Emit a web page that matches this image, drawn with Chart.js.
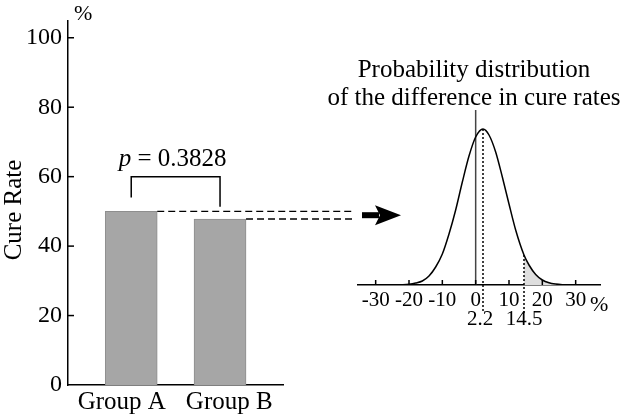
<!DOCTYPE html>
<html>
<head>
<meta charset="utf-8">
<script src="https://cdn.jsdelivr.net/npm/chart.js@4.4.1/dist/chart.umd.min.js"></script>
<style>
  body { margin: 0; background: #fff; }
  #wrap { position: relative; width: 624px; height: 420px; }
  canvas { position: absolute; left: 0; top: 0; }
</style>
</head>
<body>
<div id="wrap">
  <canvas id="barChart" width="624" height="420"></canvas>
  <canvas id="distChart" width="624" height="420"></canvas>
</div>
<script>
const serif = "'Liberation Serif', 'Times New Roman', serif";

// left panel
const categories = ['Group A', 'Group B'];
const cureRates = [50, 47.8];
const cureTicks = [0, 20, 40, 60, 80, 100];
const pValue = '0.3828';

// right panel (curve heights)
const diffValues = [-26, -24, -22, -20, -18, -16, -14, -12, -10, -8, -6, -4, -2, 0, 2.2, 4, 6, 8, 10, 12, 14.5, 16, 18, 20, 22, 24, 26, 28, 30];
const diffDensity = [0, 0.1, 0.3, 0.8, 2, 4, 9, 18, 31, 51, 75, 103, 129, 148, 156, 150, 133, 108, 81, 55, 30, 20, 10.5, 5, 2.2, 0.9, 0.3, 0.1, 0];
const diffTicks = [-30, -20, -10, 0, 10, 20, 30];
const meanDiff = 2.2;
const cutDiff = 14.5;

const barExtras = {
    id: 'barExtras',
    afterDraw(chart) {
        const ctx = chart.ctx;
        const xs = chart.scales.x, ys = chart.scales.y;
        const area = chart.chartArea;
        const bars = chart.getDatasetMeta(0).data;
        ctx.save();
        ctx.strokeStyle = '#000';
        ctx.fillStyle = '#000';
        ctx.lineWidth = 1.5;

        // inward tick marks on the y axis
        cureTicks.forEach(v => {
            if (v === 0) return;
            const y = ys.getPixelForValue(v);
            ctx.beginPath();
            ctx.moveTo(area.left, y);
            ctx.lineTo(area.left + 6, y);
            ctx.stroke();
        });

        // bracket with p value
        const by = ys.getPixelForValue(60);
        const xa = xs.getPixelForValue(0), xb = xs.getPixelForValue(1);
        ctx.beginPath();
        ctx.moveTo(xa, ys.getPixelForValue(cureRates[0] + 4));
        ctx.lineTo(xa, by);
        ctx.lineTo(xb, by);
        ctx.lineTo(xb, ys.getPixelForValue(cureRates[1] + 3.5));
        ctx.stroke();

        ctx.textBaseline = 'alphabetic';
        ctx.font = 'italic 25px ' + serif;
        const wp = ctx.measureText('p').width;
        ctx.font = '25px ' + serif;
        const rest = ' = ' + pValue;
        const wr = ctx.measureText(rest).width;
        let tx = (xa + xb) / 2 - 3 - (wp + wr) / 2;
        ctx.font = 'italic 25px ' + serif;
        ctx.textAlign = 'left';
        ctx.fillText('p', tx, by - 11);
        ctx.font = '25px ' + serif;
        ctx.fillText(rest, tx + wp, by - 11);

        // dashed guides from the bar tops
        ctx.setLineDash([7, 4]);
        ctx.lineWidth = 1.4;
        bars.forEach(b => {
            ctx.beginPath();
            ctx.moveTo(b.x + b.width / 2, b.y);
            ctx.lineTo(353, b.y);
            ctx.stroke();
        });
        ctx.setLineDash([]);

        // arrow
        const ay = (bars[0].y + bars[1].y) / 2;
        ctx.fillRect(362, ay - 3, 17, 6);
        ctx.beginPath();
        ctx.moveTo(375, ay - 10);
        ctx.lineTo(401, ay);
        ctx.lineTo(375, ay + 10);
        ctx.lineTo(380, ay);
        ctx.closePath();
        ctx.fill();

        // unit and axis title
        ctx.font = '22px ' + serif;
        ctx.textAlign = 'left';
        ctx.fillText('%', 74, 20);

        ctx.save();
        ctx.translate(14, 210);
        ctx.rotate(-Math.PI / 2);
        ctx.font = '25px ' + serif;
        ctx.textAlign = 'center';
        ctx.textBaseline = 'middle';
        ctx.fillText('Cure Rate', 0, 0);
        ctx.restore();

        ctx.restore();
    }
};

new Chart(document.getElementById('barChart'), {
    type: 'bar',
    data: {
        labels: categories,
        datasets: [{
            data: cureRates.map((v, i) => ({ x: i, y: v })),
            backgroundColor: '#a6a6a6',
            borderColor: '#8e8e8e',
            borderWidth: 1,
            barThickness: 52
        }]
    },
    options: {
        responsive: false,
        animation: false,
        layout: { padding: { left: 0, right: 341, top: 9, bottom: 0 } },
        plugins: { legend: { display: false }, tooltip: { enabled: false } },
        scales: {
            x: {
                type: 'linear',
                offset: false,
                min: -0.712,
                max: 1.709,
                weight: 0,
                afterFit: s => { s.height = 0; },
                grid: { display: false, drawTicks: false },
                border: { color: '#000', width: 1.5 },
                ticks: { display: false }
            },
            groups: {
                type: 'category',
                position: 'bottom',
                offset: true,
                weight: 1,
                afterFit: s => { s.height = 35; },
                grid: { display: false, drawTicks: false },
                border: { display: false },
                ticks: {
                    color: '#000',
                    font: { family: serif, size: 25 },
                    padding: 2,
                    maxRotation: 0,
                    autoSkip: false
                }
            },
            y: {
                min: 0,
                max: 105,
                afterBuildTicks: s => { s.ticks = cureTicks.map(v => ({ value: v })); },
                afterFit: s => { s.width = 68; },
                grid: { display: false, drawTicks: false },
                border: { color: '#000', width: 1.5 },
                ticks: {
                    color: '#000',
                    font: { family: serif, size: 24 },
                    padding: 6
                }
            }
        }
    },
    plugins: [barExtras]
});

const distExtras = {
    id: 'distExtras',
    beforeDatasetsDraw(chart) {
        const ctx = chart.ctx;
        const x0 = chart.scales.x.getPixelForValue(0);
        ctx.save();
        ctx.strokeStyle = '#444';
        ctx.lineWidth = 1.5;
        ctx.beginPath();
        ctx.moveTo(x0, chart.chartArea.top);
        ctx.lineTo(x0, chart.chartArea.bottom);
        ctx.stroke();
        ctx.restore();
    },
    afterDraw(chart) {
        const ctx = chart.ctx;
        const xs = chart.scales.x;
        const area = chart.chartArea;
        const pts = chart.getDatasetMeta(0).data;
        ctx.save();
        ctx.strokeStyle = '#000';
        ctx.fillStyle = '#000';
        ctx.lineWidth = 1.5;

        // tick marks pointing up
        diffTicks.forEach(v => {
            const x = xs.getPixelForValue(v);
            ctx.beginPath();
            ctx.moveTo(x, area.bottom);
            ctx.lineTo(x, area.bottom - 5);
            ctx.stroke();
        });

        // dotted markers at the mean and the cut-off
        ctx.setLineDash([2, 2]);
        [meanDiff, cutDiff].forEach(v => {
            const p = pts[diffValues.indexOf(v)];
            ctx.beginPath();
            ctx.moveTo(p.x, p.y);
            ctx.lineTo(p.x, 313);
            ctx.stroke();
        });
        ctx.setLineDash([]);

        ctx.font = '21px ' + serif;
        ctx.textAlign = 'center';
        ctx.textBaseline = 'alphabetic';
        ctx.fillText(String(meanDiff), xs.getPixelForValue(meanDiff) - 3, 325);
        ctx.fillText(String(cutDiff), xs.getPixelForValue(cutDiff), 325);

        ctx.font = '22px ' + serif;
        ctx.textAlign = 'left';
        ctx.fillText('%', 590, 311);

        // title
        ctx.font = '25px ' + serif;
        ctx.textAlign = 'center';
        ctx.fillText('Probability distribution', 474, 77);
        ctx.fillText('of the difference in cure rates', 474, 105);
        ctx.restore();
    }
};

new Chart(document.getElementById('distChart'), {
    type: 'line',
    data: {
        datasets: [{
            data: diffValues.map((x, i) => ({ x: x, y: diffDensity[i] })),
            borderColor: '#000',
            borderWidth: 1.5,
            pointRadius: 0,
            cubicInterpolationMode: 'monotone',
            fill: false
        }, {
            data: diffValues.map((x, i) => ({ x: x, y: diffDensity[i] })).filter(p => p.x >= cutDiff),
            borderWidth: 0,
            borderColor: 'rgba(0,0,0,0)',
            backgroundColor: '#dedede',
            pointRadius: 0,
            cubicInterpolationMode: 'monotone',
            fill: 'origin'
        }]
    },
    options: {
        responsive: false,
        animation: false,
        layout: { padding: { left: 358, right: 24, top: 110, bottom: 105 } },
        plugins: { legend: { display: false }, tooltip: { enabled: false } },
        scales: {
            x: {
                type: 'linear',
                min: -35.3,
                max: 37.3,
                afterBuildTicks: s => { s.ticks = diffTicks.map(v => ({ value: v })); },
                afterFit: s => { s.height = 30; },
                grid: { display: false, drawTicks: false },
                border: { color: '#000', width: 1.5 },
                ticks: {
                    color: '#000',
                    font: { family: serif, size: 21 },
                    padding: 3,
                    maxRotation: 0,
                    autoSkip: false
                }
            },
            y: { display: false, min: 0, max: 175 }
        }
    },
    plugins: [distExtras]
});
</script>
</body>
</html>
